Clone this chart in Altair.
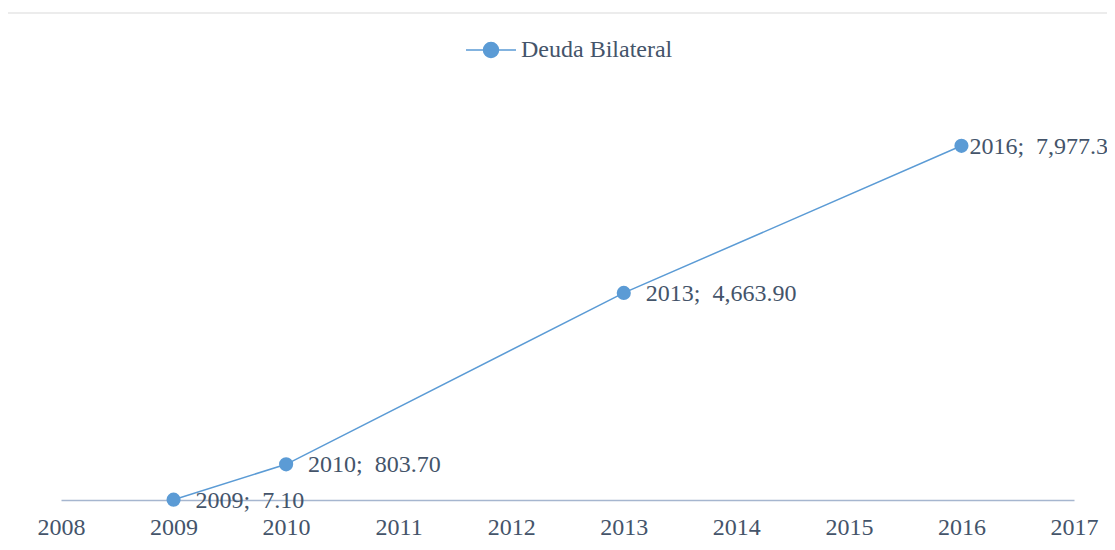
import altair as alt
import pandas as pd

years = [2009, 2010, 2013, 2016]
values = [7.10, 803.70, 4663.90, 7977.30]
series = ["Deuda Bilateral"] * 4
x_ticks = list(range(2008, 2018))

labels = [f"{y};\u00a0 {v:,.2f}" for y, v in zip(years, values)]
df = pd.DataFrame({"year": years, "value": values, "series": series, "label": labels})

FONT = "Liberation Serif"
TXT = "#44546a"
BLUE = "#5b9bd5"

x = alt.X("year:Q",
          scale=alt.Scale(domain=[2008, 2017], nice=False, zero=False),
          axis=alt.Axis(values=x_ticks, format="d", title=None, grid=False, ticks=False,
                        labelFlush=False, labelOverlap=False,
                        domainColor="#a6b6cf", domainWidth=1.3,
                        labelFont=FONT, labelFontSize=24, labelColor=TXT, labelPadding=15))
y = alt.Y("value:Q", scale=alt.Scale(domain=[0, 10000], nice=False), axis=None)

color = alt.Color("series:N", scale=alt.Scale(range=[BLUE]),
                  legend=alt.Legend(title=None, orient="none", legendX=404, legendY=-32,
                                    symbolType="M-1,0H1M0.3,0A0.3,0.3 0 1 1 -0.3,0A0.3,0.3 0 1 1 0.3,0",
                                    symbolSize=2500, symbolStrokeWidth=1.5,
                                    symbolFillColor=BLUE, symbolStrokeColor=BLUE,
                                    labelFont=FONT, labelFontSize=24, labelColor=TXT,
                                    labelOffset=4, padding=0))

base = alt.Chart(df)

line = base.mark_line(strokeWidth=1.5).encode(x=x, y=y, color=color)
pts = base.mark_point(filled=True, size=200, opacity=1).encode(x=x, y=y, color=color)

lab_main = base.transform_filter(alt.datum.year != 2016).mark_text(
    align="left", baseline="middle", dx=22, dy=1, font=FONT, fontSize=24, color=TXT
).encode(x=x, y=y, text="label:N")
lab_last = base.transform_filter(alt.datum.year == 2016).mark_text(
    align="left", baseline="middle", dx=8, dy=1, font=FONT, fontSize=24, color=TXT
).encode(x=x, y=y, text="label:N")

frame = alt.Chart(pd.DataFrame({"k": [0]})).mark_rule(color="#d9d9d9", strokeWidth=1).encode(
    x=alt.value(-53), x2=alt.value(1046), y=alt.value(-43))

chart = alt.layer(frame, line, pts, lab_main, lab_last).properties(
    width=1013, height=444,
    background="white",
    autosize=alt.AutoSizeParams(type="none"),
    padding={"left": 53, "top": 48, "right": 33, "bottom": 42},
).configure_view(strokeWidth=0, stroke=None)

chart.save("out.html", embed_options={"renderer": "svg", "actions": False})
